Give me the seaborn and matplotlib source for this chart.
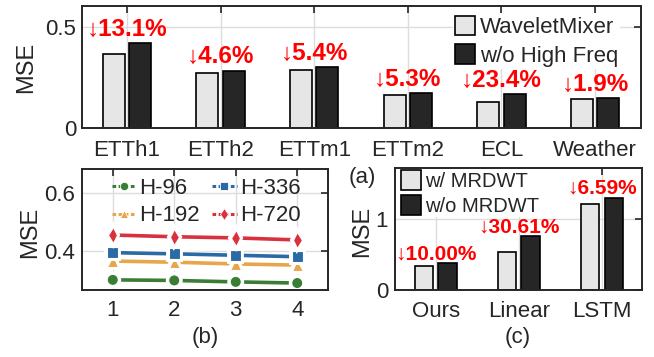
import pandas as pd
import matplotlib
matplotlib.use('Agg')
import matplotlib.pyplot as plt
import matplotlib.patheffects as pe
from matplotlib.lines import Line2D
from matplotlib.ticker import FuncFormatter
import seaborn as sns

# (a) high-frequency ablation
datasets = ['ETTh1', 'ETTh2', 'ETTm1', 'ETTm2', 'ECL', 'Weather']
wavelet_mixer = [0.364, 0.271, 0.286, 0.163, 0.128, 0.144]
no_high_freq = [0.419, 0.284, 0.302, 0.172, 0.167, 0.147]
drop_a = ['↓13.1%', '↓4.6%', '↓5.4%', '↓5.3%', '↓23.4%', '↓1.9%']

# (b) decomposition level
levels = [1, 2, 3, 4]
h96 = [0.299, 0.297, 0.292, 0.288]
h192 = [0.364, 0.360, 0.354, 0.350]
h336 = [0.393, 0.389, 0.384, 0.379]
h720 = [0.454, 0.448, 0.444, 0.437]

# (c) MRDWT on other backbones
models = ['Ours', 'Linear', 'LSTM']
with_mrdwt = [0.338, 0.531, 1.215]
without_mrdwt = [0.376, 0.761, 1.300]
drop_c = ['↓10.00%', '↓30.61%', '↓6.59%']

sns.set_theme(style='whitegrid')
plt.rcParams['font.family'] = ['Liberation Sans', 'DejaVu Sans']
plt.rcParams['font.size'] = 16

AX = '#262626'
LIGHT, DARK = '#e6e6e6', '#262626'
fmt = FuncFormatter(lambda v, p: f'{v:g}')


def style_axes(ax, xpad, ypad):
    ax.grid(True, color='#dcdcdc', lw=1)
    ax.set_axisbelow(True)
    for s in ax.spines.values():
        s.set_color(AX)
        s.set_linewidth(1.4)
    ax.tick_params(direction='in', length=5, width=1.2, color=AX, labelcolor=AX,
                   top=True, right=True, labelsize=16)
    ax.tick_params(axis='x', pad=xpad)
    ax.tick_params(axis='y', pad=ypad)
    ax.set_xlabel('')
    ax.set_ylabel('MSE', fontsize=17, color=AX, va='center')


fig = plt.figure(figsize=(6.54, 3.57), dpi=100)
ax_a = fig.add_axes([0.1254, 0.6415, 0.8547, 0.3417])
ax_b = fig.add_axes([0.1254, 0.1877, 0.3761, 0.338])
ax_c = fig.add_axes([0.604, 0.1877, 0.3772, 0.341])

# ---- (a)
df_a = pd.DataFrame({
    'dataset': datasets * 2,
    'mse': wavelet_mixer + no_high_freq,
    'variant': ['WaveletMixer'] * len(datasets) + ['w/o High Freq'] * len(datasets),
})
sns.barplot(data=df_a, x='dataset', y='mse', hue='variant', palette=[LIGHT, DARK],
            width=0.56, gap=0.16, edgecolor='black', linewidth=1.2, ax=ax_a)
ax_a.set_xlim(-0.48, 5.49)
ax_a.set_ylim(0, 0.604)
ax_a.set_yticks([0, 0.5])
ax_a.yaxis.set_major_formatter(fmt)
style_axes(ax_a, 9, 4)
ax_a.yaxis.set_label_coords(-0.1, 0.5)
for i, txt in enumerate(drop_a):
    top = max(wavelet_mixer[i], no_high_freq[i])
    ax_a.text(i, top + 0.068, txt, color='red', fontsize=17.5, fontweight='bold',
              ha='center', va='center')
h, l = ax_a.get_legend_handles_labels()
ax_a.legend(h, l, loc='upper left', bbox_to_anchor=(0.664, 0.94), frameon=True,
            facecolor='white', edgecolor='none', framealpha=1, borderpad=0.1,
            handlelength=0.9, handleheight=0.95, handletextpad=0.2, labelspacing=0.3,
            fontsize=16, borderaxespad=0)

# ---- (b)
colors_b = {'H-96': '#3a7d34', 'H-192': '#e8a64c', 'H-336': '#2a6aa5', 'H-720': '#d9323f'}
markers_b = {'H-96': 'o', 'H-192': '^', 'H-336': 's', 'H-720': 'd'}
order_b = ['H-96', 'H-192', 'H-336', 'H-720']
df_b = pd.DataFrame({
    'level': levels * 4,
    'mse': h96 + h192 + h336 + h720,
    'horizon': ['H-96'] * 4 + ['H-192'] * 4 + ['H-336'] * 4 + ['H-720'] * 4,
})
sns.lineplot(data=df_b, x='level', y='mse', hue='horizon', style='horizon',
             hue_order=order_b, style_order=order_b, palette=colors_b, markers=markers_b,
             dashes=False, lw=2.6, markersize=8, markeredgecolor='white',
             markeredgewidth=0.8, legend=False, ax=ax_b)
for ln in ax_b.lines:
    ln.set_path_effects([pe.Stroke(linewidth=4.2, foreground='white'), pe.Normal()])
ax_b.set_xlim(0.5, 4.5)
ax_b.set_ylim(0.264, 0.681)
ax_b.set_xticks(levels)
ax_b.set_yticks([0.4, 0.6])
ax_b.yaxis.set_major_formatter(fmt)
style_axes(ax_b, 7, 5)
ax_b.yaxis.set_label_coords(-0.21, 0.48)
handles_b = [Line2D([], [], color=colors_b[k], marker=markers_b[k], lw=2.2,
                    linestyle=(0, (1.2, 0.8)), markersize=6, markeredgecolor='white',
                    markeredgewidth=0.6) for k in order_b]
ax_b.legend(handles_b, order_b, ncol=2, loc='upper left', bbox_to_anchor=(0.12, 0.93),
            frameon=False, handlelength=1.1, handletextpad=0.15, columnspacing=0.55,
            labelspacing=0.3, fontsize=16, borderaxespad=0, borderpad=0)

# ---- (c)
df_c = pd.DataFrame({
    'model': models * 2,
    'mse': with_mrdwt + without_mrdwt,
    'variant': ['w/ MRDWT'] * len(models) + ['w/o MRDWT'] * len(models),
})
sns.barplot(data=df_c, x='model', y='mse', hue='variant', palette=[LIGHT, DARK],
            width=0.57, gap=0.23, edgecolor='black', linewidth=1.2, ax=ax_c)
ax_c.set_xlim(-0.49, 2.48)
ax_c.set_ylim(0, 1.714)
ax_c.set_yticks([0, 1])
ax_c.yaxis.set_major_formatter(fmt)
style_axes(ax_c, 8, 5)
ax_c.yaxis.set_label_coords(-0.135, 0.48)
for i, txt in enumerate(drop_c):
    top = max(with_mrdwt[i], without_mrdwt[i])
    ax_c.text(i, top + 0.13, txt, color='red', fontsize=15, fontweight='bold',
              ha='center', va='center', zorder=6)
h, l = ax_c.get_legend_handles_labels()
ax_c.legend(h, l, loc='upper left', bbox_to_anchor=(0.02, 0.99), frameon=True,
            facecolor='white', edgecolor='none', framealpha=1, borderpad=0.05,
            handlelength=1.0, handleheight=1.1, handletextpad=0.2, labelspacing=0.22,
            fontsize=14.5, borderaxespad=0)

fig.text(362 / 654, 1 - 178 / 357, '(a)', ha='center', va='center', fontsize=16, color=AX)
fig.text(205 / 654, 1 - 338 / 357, '(b)', ha='center', va='center', fontsize=16, color=AX)
fig.text(518 / 654, 1 - 338 / 357, '(c)', ha='center', va='center', fontsize=16, color=AX)

fig.savefig('out.png', dpi=100)
